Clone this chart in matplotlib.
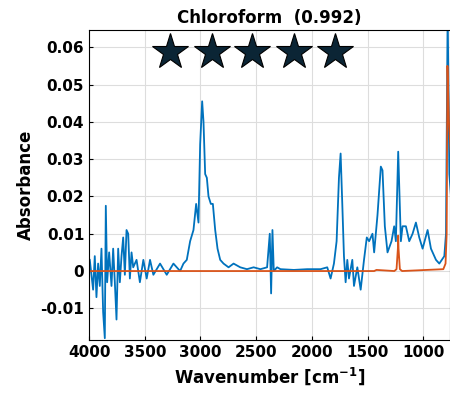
import matplotlib.pyplot as plt

# measured spectrum (blue)
wn_meas = [3994, 3964, 3949, 3934, 3919, 3904, 3889, 3874, 3859, 3850, 3838, 3820, 3799, 3784,
           3769, 3754, 3739, 3724, 3709, 3694, 3679, 3664, 3649, 3634, 3619, 3604, 3574, 3544,
           3513, 3483, 3453, 3423, 3363, 3303, 3243, 3183, 3153, 3123, 3093, 3063, 3039, 3018,
           3003, 2985, 2973, 2958, 2943, 2928, 2907, 2889, 2868, 2847, 2823, 2793, 2748, 2703,
           2643, 2583, 2523, 2462, 2402, 2378, 2366, 2354, 2342, 2312, 2282, 2162, 2042, 1922,
           1862, 1832, 1802, 1778, 1757, 1742, 1727, 1712, 1697, 1682, 1667, 1637, 1622, 1592,
           1562, 1532, 1507, 1486, 1456, 1441, 1411, 1381, 1366, 1345, 1321, 1285, 1261, 1246,
           1225, 1213, 1201, 1186, 1156, 1126, 1096, 1066, 1036, 1006, 961, 931, 886, 856, 811,
           796, 781, 766, 751]
abs_meas = [0.003, -0.005, 0.004, -0.007, 0.002, -0.004, 0.006, -0.011, -0.018, 0.0175, -0.003,
            0.005, -0.004, 0.006, -0.003, -0.013, 0.006, -0.003, 0.004, 0.009, -0.001, 0.011,
            0.010, -0.002, 0.005, 0.001, 0.003, -0.003, 0.003, -0.002, 0.003, -0.001, 0.002,
            -0.001, 0.002, 0.0, 0.002, 0.003, 0.008, 0.011, 0.018, 0.013, 0.034, 0.0455, 0.040,
            0.026, 0.025, 0.020, 0.018, 0.018, 0.011, 0.006, 0.003, 0.002, 0.001, 0.002, 0.001,
            0.0005, 0.001, 0.0005, 0.001, 0.010, -0.006, 0.011, 0.0, 0.001, 0.0005, 0.0003,
            0.0005, 0.0005, 0.001, -0.002, 0.002, 0.008, 0.025, 0.0315, 0.018, 0.004, -0.003,
            0.003, -0.002, 0.003, -0.004, 0.001, -0.005, 0.003, 0.009, 0.008, 0.010, 0.005,
            0.015, 0.028, 0.027, 0.012, 0.005, 0.008, 0.012, 0.008, 0.032, 0.020, 0.008, 0.012,
            0.012, 0.008, 0.010, 0.013, 0.009, 0.006, 0.011, 0.006, 0.003, 0.002, 0.004, 0.010,
            0.07, 0.026, 0.02]

# reference spectrum (orange)
wn_ref = [4000, 1441, 1420, 1260, 1240, 1228, 1225, 1222, 1210, 1190, 820, 800, 790, 783, 778, 770, 750]
abs_ref = [0, 0, 0.0003, 0, 0.0005, 0.006, 0.0095, 0.006, 0.0005, 0, 0.0005, 0.002, 0.01, 0.055, 0.05, 0.04, 0.03]

star_wn = [3273, 2898, 2538, 2162, 1796]
star_y = [0.0587] * 5

fig = plt.figure(figsize=(4.5, 4.01), dpi=100)
ax = fig.add_axes([0.198, 0.152, 0.802, 0.773])
ax.plot(wn_meas, abs_meas, color='#0072BD', lw=1.3)
ax.plot(wn_ref, abs_ref, color='#D95319', lw=1.3)
ax.plot(star_wn, star_y, linestyle='none', marker='*', markersize=27,
        color='#0b2535', markeredgecolor='black', markeredgewidth=0.8)

ax.set_xlim(4000, 760)
ax.set_ylim(-0.0185, 0.0646)
ax.set_xticks([4000, 3500, 3000, 2500, 2000, 1500, 1000])
ax.set_yticks([-0.01, 0, 0.01, 0.02, 0.03, 0.04, 0.05, 0.06])
ax.set_yticklabels(['-0.01', '0', '0.01', '0.02', '0.03', '0.04', '0.05', '0.06'])
ax.grid(True, color='#dddddd', lw=0.8)
ax.tick_params(labelsize=11, direction='in', length=3)
for lab in ax.get_xticklabels() + ax.get_yticklabels():
    lab.set_fontweight('bold')
ax.set_xlabel('Wavenumber [cm$^{\\mathbf{-1}}$]', fontsize=12, fontweight='bold')
ax.set_ylabel('Absorbance', fontsize=12, fontweight='bold')
ax.set_title('Chloroform  (0.992)', fontsize=12, fontweight='bold', pad=5)

fig.savefig('out.png', dpi=100)
